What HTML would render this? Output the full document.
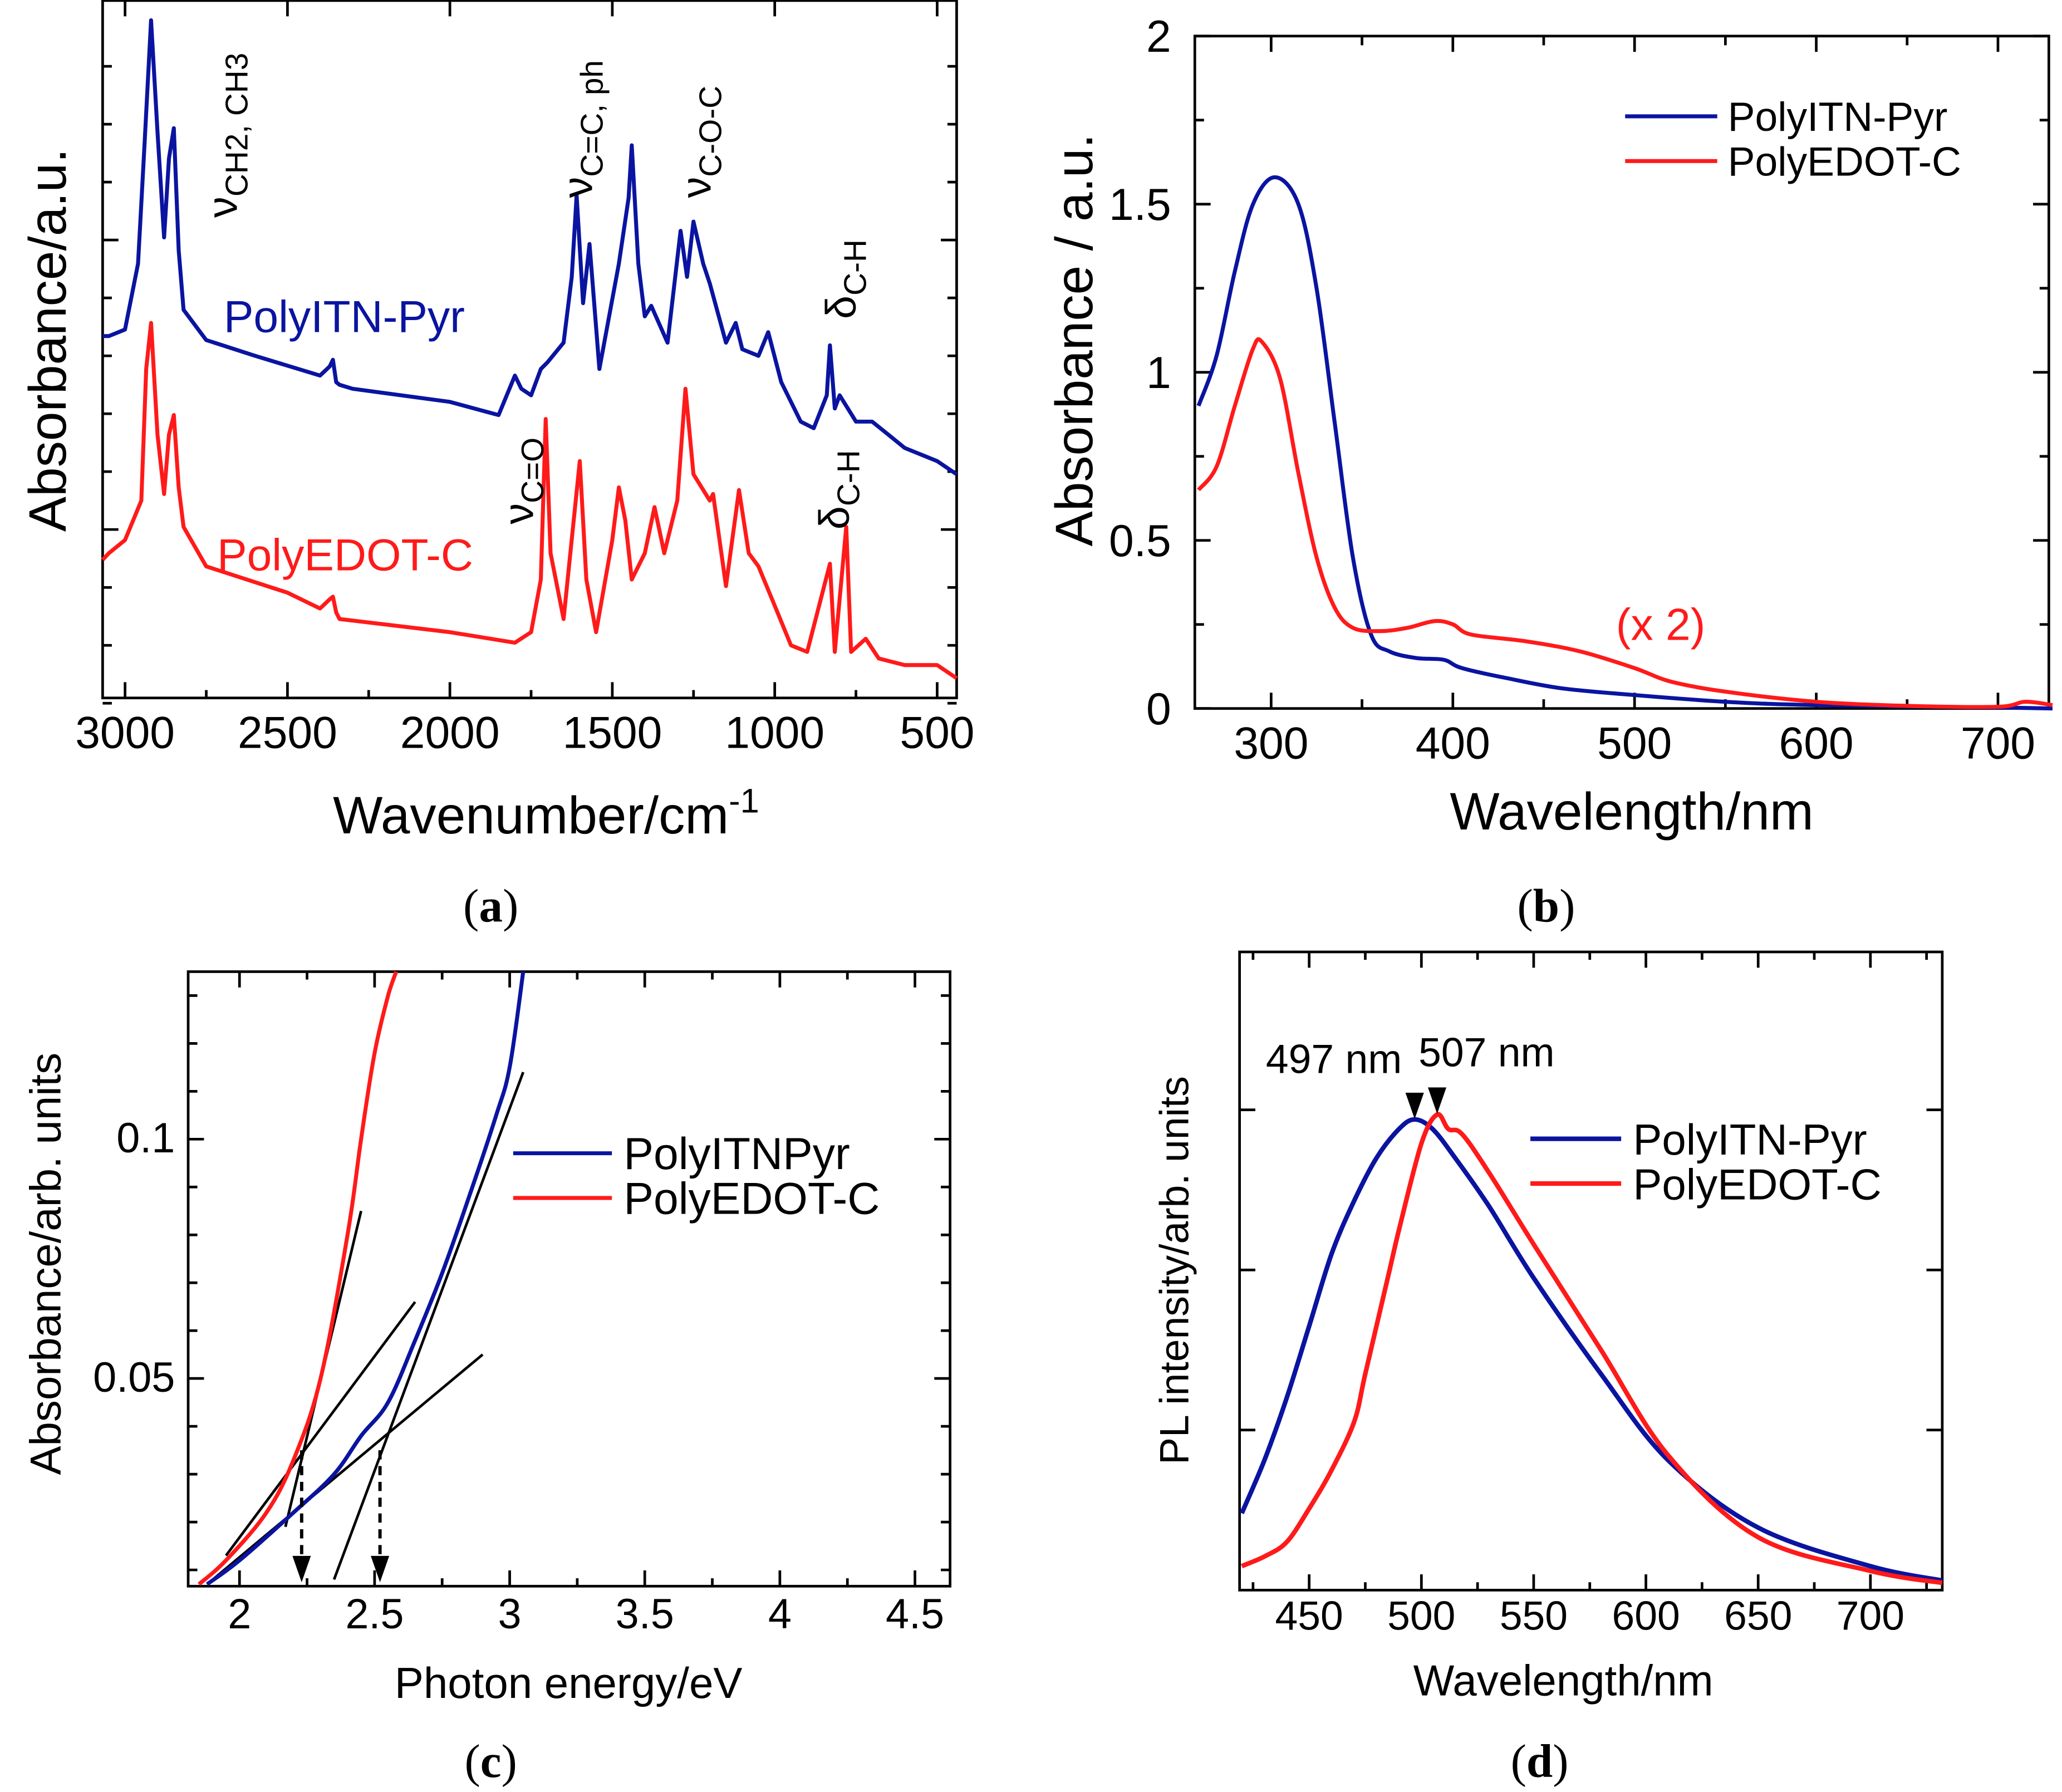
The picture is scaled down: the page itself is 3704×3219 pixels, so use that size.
<!DOCTYPE html>
<html><head><meta charset="utf-8"><style>
html,body{margin:0;padding:0;background:#fff;}
svg{display:block;font-family:"Liberation Sans",sans-serif;}
</style></head><body>
<svg id="fig" width="3704" height="3219" viewBox="0 0 1567 1361" xmlns="http://www.w3.org/2000/svg"></svg>
<script>
// Panel a data (wavenumber, absorbance a.u.)
const aBlueX=[3069,3050,3000,2960,2940,2920,2900,2880,2865,2850,2835,2820,2750,2600,2400,2370,2360,2350,2340,2300,2000,1850,1800,1780,1750,1720,1700,1650,1625,1610,1590,1570,1540,1510,1480,1450,1440,1420,1400,1380,1330,1290,1270,1250,1220,1200,1150,1120,1100,1050,1020,980,920,880,840,830,815,800,750,700,650,600,500,440];
const aBlueY=[2.75,2.75,2.8,3.3,4.2,5.15,4.3,3.5,4.1,4.33,3.4,2.95,2.72,2.6,2.45,2.52,2.57,2.4,2.38,2.35,2.25,2.15,2.45,2.35,2.3,2.5,2.55,2.7,3.2,3.82,3.0,3.45,2.5,2.9,3.3,3.8,4.2,3.3,2.9,2.98,2.7,3.55,3.2,3.62,3.3,3.15,2.7,2.85,2.65,2.6,2.78,2.4,2.1,2.05,2.3,2.68,2.2,2.3,2.1,2.1,2.0,1.9,1.8,1.7];
const aRedX=[3069,3050,3000,2950,2935,2920,2900,2880,2865,2850,2835,2820,2750,2500,2400,2370,2360,2350,2340,2000,1800,1750,1720,1705,1690,1650,1600,1580,1550,1500,1480,1460,1440,1400,1370,1340,1300,1275,1250,1200,1190,1150,1110,1080,1050,1000,950,900,830,815,780,765,720,680,600,500,440];
const aRedY=[1.05,1.1,1.2,1.5,2.5,2.85,2.0,1.55,2.0,2.15,1.6,1.3,1.0,0.8,0.68,0.75,0.77,0.65,0.6,0.5,0.42,0.5,0.9,2.12,1.1,0.6,1.8,0.9,0.5,1.2,1.6,1.35,0.9,1.1,1.45,1.1,1.5,2.35,1.7,1.5,1.55,0.85,1.58,1.1,1.0,0.7,0.4,0.35,1.02,0.35,1.3,0.35,0.45,0.3,0.25,0.25,0.15];
// Panel b data
const bBlueX=[260,270,280,290,302,315,325,335,345,355,365,380,395,405,430,460,500,550,600,700,730];
const bBlueY=[0.9,1.05,1.3,1.5,1.58,1.5,1.25,0.85,0.45,0.22,0.17,0.15,0.145,0.12,0.09,0.06,0.04,0.02,0.01,0.003,0.0];
const bRedX=[260,270,280,290,295,305,315,325,335,345,360,375,390,400,410,440,470,500,520,550,600,650,700,715,730];
const bRedY=[0.65,0.72,0.9,1.07,1.09,0.98,0.7,0.45,0.3,0.24,0.23,0.24,0.26,0.25,0.22,0.2,0.17,0.12,0.08,0.05,0.02,0.008,0.005,0.02,0.01];
// Panel c data
const cRedX=[1.85,1.95,2.1,2.2,2.3,2.4,2.45,2.5,2.55,2.58];
const cRedY=[0.007,0.012,0.022,0.033,0.05,0.08,0.1,0.118,0.13,0.135];
const cBlueX=[1.88,2.0,2.2,2.35,2.45,2.55,2.65,2.75,2.85,2.95,3.0,3.05];
const cBlueY=[0.007,0.012,0.022,0.03,0.038,0.045,0.058,0.072,0.088,0.105,0.115,0.135];
const cFits=[[2.17,0.019,2.45,0.085],[1.95,0.013,2.65,0.066],[1.88,0.007,2.9,0.055],[2.35,0.008,3.05,0.114]];
const cOnsets=[2.23,2.52];
// Panel d data
const dBlueX=[420,430,440,450,460,470,480,490,497,505,515,530,550,580,610,650,700,732];
const dBlueY=[0.16,0.27,0.4,0.55,0.7,0.81,0.9,0.96,0.98,0.96,0.9,0.8,0.65,0.45,0.27,0.13,0.05,0.02];
const dRedX=[420,430,440,450,460,470,475,485,490,500,507,512,518,530,550,580,610,650,700,732];
const dRedY=[0.05,0.07,0.1,0.17,0.25,0.35,0.45,0.65,0.75,0.93,0.99,0.96,0.95,0.87,0.72,0.5,0.28,0.11,0.04,0.015];

const NS='http://www.w3.org/2000/svg';
const svg=document.getElementById('fig');
function mk(tag,attrs,name,parent){
  const el=document.createElementNS(NS,tag);
  for(const k in attrs) el.setAttribute(k,attrs[k]);
  
  
  (parent||svg).appendChild(el);
  return el;
}
function txt(x,y,s,size,name,opts){
  opts=opts||{};
  const t=mk('text',{x:x,y:y,'font-size':size,'text-anchor':opts.anchor||'middle',fill:opts.fill||'#000'},name);
  if(opts.rot) t.setAttribute('transform','rotate(-90 '+x+' '+y+')');
  if(opts.font) t.setAttribute('font-family',opts.font);
  t.innerHTML=s;
  return t;
}
function lin(d0,d1,r0,r1){return v=>r0+(v-d0)/(d1-d0)*(r1-r0);}
function series(xs,ys,sx,sy,color,w,name){
  const p=xs.map((x,i)=>sx(x).toFixed(1)+','+sy(ys[i]).toFixed(1)).join(' ');
  mk('polyline',{points:p,fill:'none',stroke:color,'stroke-width':w,'stroke-linejoin':'round'},name);
}
function smooth(xs,ys,sx,sy,color,w,name){
  const P=xs.map((x,i)=>[sx(x),sy(ys[i])]);
  let d='M'+P[0][0].toFixed(1)+','+P[0][1].toFixed(1);
  for(let i=0;i<P.length-1;i++){
    const p0=P[Math.max(i-1,0)],p1=P[i],p2=P[i+1],p3=P[Math.min(i+2,P.length-1)];
    const c1=[p1[0]+(p2[0]-p0[0])/6,p1[1]+(p2[1]-p0[1])/6];
    const c2=[p2[0]-(p3[0]-p1[0])/6,p2[1]-(p3[1]-p1[1])/6];
    d+=' C'+c1[0].toFixed(1)+','+c1[1].toFixed(1)+' '+c2[0].toFixed(1)+','+c2[1].toFixed(1)+' '+p2[0].toFixed(1)+','+p2[1].toFixed(1);
  }
  mk('path',{d:d,fill:'none',stroke:color,'stroke-width':w,'stroke-linejoin':'round'},name);
}
function box(x0,y0,x1,y1,name){mk('rect',{x:x0,y:y0,width:x1-x0,height:y1-y0,fill:'none',stroke:'#000','stroke-width':2},name);}
function tick(x1,y1,x2,y2,name){mk('line',{x1:x1,y1:y1,x2:x2,y2:y2,stroke:'#000','stroke-width':2},name);}
const BLUE='#0a14a0', RED='#ff1a1a';

// ---------- Panel a ----------
const ax=lin(3069,440,78,727), ay=lin(0,5.3,530,0);
box(78,0,727,530,'panel-a-frame');
[3000,2500,2000,1500,1000,500].forEach(v=>{tick(ax(v),530,ax(v),518,'a-x-tick');tick(ax(v),0,ax(v),12,'a-x-tick-top');txt(ax(v),568,v,34,'a-x-tick-label');});
[2750,2250,1750,1250,750].forEach(v=>{tick(ax(v),530,ax(v),524,'a-x-minor-tick');});
for(let y=40;y<530;y+=44){const maj=(Math.abs(y-172)<5||Math.abs(y-392)<5);tick(78,y+10,78+(maj?12:7),y+10,'a-y-tick');tick(727,y+10,727-(maj?12:7),y+10,'a-y-tick-right');}
series(aBlueX,aBlueY,ax,ay,BLUE,3,'a-polyitn-pyr-spectrum');
series(aRedX,aRedY,ax,ay,RED,3,'a-polyedot-c-spectrum');
txt(415,633,'Wavenumber/cm<tspan font-size="26" dy="-16">-1</tspan>',40,'a-x-axis-title');
txt(50,258,'Absorbance/a.u.',40,'a-y-axis-title',{rot:1});
txt(170,252,'PolyITN-Pyr',34,'a-label-polyitn-pyr',{anchor:'start',fill:BLUE});
txt(165,433,'PolyEDOT-C',34,'a-label-polyedot-c',{anchor:'start',fill:RED});
txt(180,165,'ν<tspan font-size="24" dy="8">CH2, CH3</tspan>',32,'a-annot-ch-stretch',{anchor:'start',rot:1});
txt(450,150,'ν<tspan font-size="24" dy="8">C=C, ph</tspan>',32,'a-annot-cc-stretch',{anchor:'start',rot:1});
txt(540,150,'ν<tspan font-size="24" dy="8">C-O-C</tspan>',32,'a-annot-coc-stretch',{anchor:'start',rot:1});
txt(650,242,'δ<tspan font-size="24" dy="8">C-H</tspan>',32,'a-annot-ch-bend-top',{anchor:'start',rot:1});
txt(405,398,'ν<tspan font-size="24" dy="8">C=O</tspan>',32,'a-annot-co-stretch',{anchor:'start',rot:1});
txt(645,402,'δ<tspan font-size="24" dy="8">C-H</tspan>',32,'a-annot-ch-bend-bottom',{anchor:'start',rot:1});
txt(373,700,'(<tspan font-weight="bold">a</tspan>)',36,'caption-a',{font:'Liberation Serif'});

// ---------- Panel b ----------
const bx=lin(258,728,908,1557), by=lin(0,2,538,27);
box(908,27,1557,538,'panel-b-frame');
[300,400,500,600,700].forEach(v=>{tick(bx(v),538,bx(v),526,'b-x-tick');tick(bx(v),27,bx(v),39,'b-x-tick-top');txt(bx(v),576,v,34,'b-x-tick-label');});
[350,450,550,650].forEach(v=>{tick(bx(v),538,bx(v),531,'b-x-minor-tick');tick(bx(v),27,bx(v),34,'b-x-minor-tick-top');});
[0,0.5,1,1.5,2].forEach(v=>{tick(908,by(v),920,by(v),'b-y-tick');tick(1557,by(v),1545,by(v),'b-y-tick-right');txt(890,by(v)+12,v,34,'b-y-tick-label',{anchor:'end'});});
[0.25,0.75,1.25,1.75].forEach(v=>{tick(908,by(v),915,by(v),'b-y-minor-tick');tick(1557,by(v),1550,by(v),'b-y-minor-tick-right');});
smooth(bBlueX,bBlueY,bx,by,BLUE,3,'b-polyitn-pyr-curve');
smooth(bRedX,bRedY,bx,by,RED,3,'b-polyedot-c-curve');
mk('line',{x1:1235,y1:88,x2:1305,y2:88,stroke:BLUE,'stroke-width':3},'b-legend-swatch-polyitn-pyr');
txt(1313,99,'PolyITN-Pyr',31,'b-legend-label-polyitn-pyr',{anchor:'start'});
mk('line',{x1:1235,y1:122,x2:1305,y2:122,stroke:RED,'stroke-width':3},'b-legend-swatch-polyedot-c');
txt(1313,133,'PolyEDOT-C',31,'b-legend-label-polyedot-c',{anchor:'start'});
txt(1228,486,'(x 2)',34,'b-scale-annotation',{anchor:'start',fill:RED});
txt(1240,630,'Wavelength/nm',40,'b-x-axis-title');
txt(830,258,'Absorbance / a.u.',40,'b-y-axis-title',{rot:1});
txt(1175,700,'(<tspan font-weight="bold">b</tspan>)',36,'caption-b',{font:'Liberation Serif'});

// ---------- Panel c ----------
const cx=lin(1.81,4.63,143,722), cy=lin(0.0066,0.135,1205,738);
box(143,738,722,1205,'panel-c-frame');
[2,2.5,3,3.5,4,4.5].forEach(v=>{tick(cx(v),1205,cx(v),1193,'c-x-tick');tick(cx(v),738,cx(v),750,'c-x-tick-top');txt(cx(v),1237,v,32,'c-x-tick-label');});
[2.25,2.75,3.25,3.75,4.25].forEach(v=>{tick(cx(v),1205,cx(v),1199,'c-x-minor-tick');tick(cx(v),738,cx(v),744,'c-x-minor-tick-top');});
[0.05,0.1].forEach(v=>{txt(133,cy(v)+10,v,32,'c-y-tick-label',{anchor:'end'});});
for(let v=0.01;v<0.135;v+=0.01){const maj=Math.abs(v-0.05)<1e-6||Math.abs(v-0.1)<1e-6;tick(143,cy(v),143+(maj?12:7),cy(v),'c-y-tick');tick(722,cy(v),722-(maj?12:7),cy(v),'c-y-tick-right');}
cFits.forEach(f=>mk('line',{x1:cx(f[0]),y1:cy(f[1]),x2:cx(f[2]),y2:cy(f[3]),stroke:'#000','stroke-width':2},'c-tangent-fit-line'));
smooth(cBlueX,cBlueY,cx,cy,BLUE,3,'c-polyitnpyr-curve');
smooth(cRedX,cRedY,cx,cy,RED,3,'c-polyedot-c-curve');
cOnsets.forEach(v=>{
  mk('line',{x1:cx(v),y1:cy(0.035),x2:cx(v),y2:1188,stroke:'#000','stroke-width':2.5,'stroke-dasharray':'7,5'},'c-onset-dashed-line');
  mk('polygon',{points:(cx(v)-7)+',1182 '+(cx(v)+7)+',1182 '+cx(v)+',1202',fill:'#000'},'c-onset-arrowhead');
});
mk('line',{x1:390,y1:876,x2:465,y2:876,stroke:BLUE,'stroke-width':3},'c-legend-swatch-polyitnpyr');
txt(474,888,'PolyITNPyr',34,'c-legend-label-polyitnpyr',{anchor:'start'});
mk('line',{x1:390,y1:910,x2:465,y2:910,stroke:RED,'stroke-width':3},'c-legend-swatch-polyedot-c');
txt(474,922,'PolyEDOT-C',34,'c-legend-label-polyedot-c',{anchor:'start'});
txt(432,1290,'Photon energy/eV',33,'c-x-axis-title');
txt(46,960,'Absorbance/arb. units',33,'c-y-axis-title',{rot:1});
txt(373,1350,'(<tspan font-weight="bold">c</tspan>)',36,'caption-c',{font:'Liberation Serif'});

// ---------- Panel d ----------
const dx=lin(419,732,942,1476), dy=lin(0,1,1208,843);
box(942,723,1476,1208,'panel-d-frame');
[450,500,550,600,650,700].forEach(v=>{tick(dx(v),1208,dx(v),1196,'d-x-tick');tick(dx(v),723,dx(v),735,'d-x-tick-top');txt(dx(v),1238,v,31,'d-x-tick-label');});
[425,475,525,575,625,675,725].forEach(v=>{tick(dx(v),1208,dx(v),1202,'d-x-minor-tick');tick(dx(v),723,dx(v),729,'d-x-minor-tick-top');});
[1/3,2/3,1].forEach(v=>{tick(942,dy(v),954,dy(v),'d-y-tick');tick(1476,dy(v),1464,dy(v),'d-y-tick-right');});
smooth(dBlueX,dBlueY,dx,dy,BLUE,3.5,'d-polyitn-pyr-pl-curve');
smooth(dRedX,dRedY,dx,dy,RED,3.5,'d-polyedot-c-pl-curve');
mk('polygon',{points:(dx(497)-7)+',830 '+(dx(497)+7)+',830 '+dx(497)+',850',fill:'#000'},'d-peak-arrow-497');
mk('polygon',{points:(dx(507)-7)+',826 '+(dx(507)+7)+',826 '+dx(507)+',846',fill:'#000'},'d-peak-arrow-507');
txt(962,815,'497 nm',31,'d-peak-label-497',{anchor:'start'});
txt(1078,810,'507 nm',31,'d-peak-label-507',{anchor:'start'});
mk('line',{x1:1163,y1:865,x2:1232,y2:865,stroke:BLUE,'stroke-width':3.5},'d-legend-swatch-polyitn-pyr');
txt(1241,877,'PolyITN-Pyr',33,'d-legend-label-polyitn-pyr',{anchor:'start'});
mk('line',{x1:1163,y1:899,x2:1232,y2:899,stroke:RED,'stroke-width':3.5},'d-legend-swatch-polyedot-c');
txt(1241,911,'PolyEDOT-C',33,'d-legend-label-polyedot-c',{anchor:'start'});
txt(1188,1288,'Wavelength/nm',33,'d-x-axis-title');
txt(903,965,'PL intensity/arb. units',31,'d-y-axis-title',{rot:1});
txt(1170,1350,'(<tspan font-weight="bold">d</tspan>)',36,'caption-d',{font:'Liberation Serif'});
</script>
</body></html>
